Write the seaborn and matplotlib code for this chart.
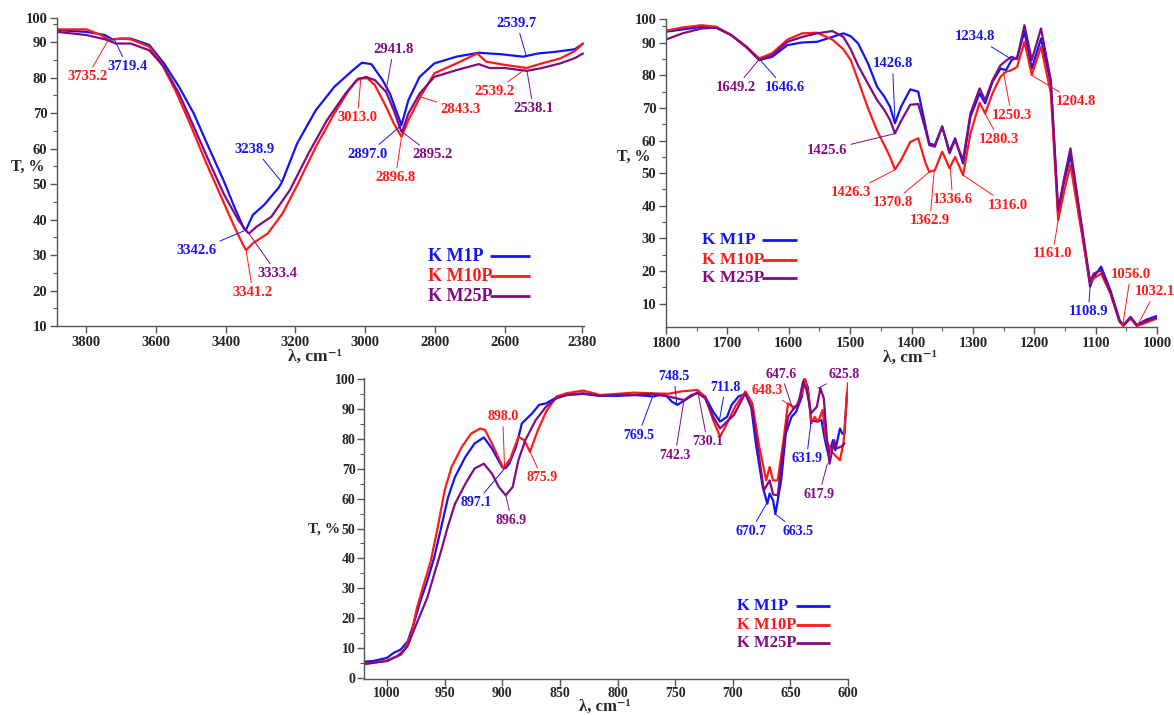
import numpy as np
import pandas as pd
import matplotlib
matplotlib.use("Agg")
import matplotlib.pyplot as plt
from matplotlib.ticker import MultipleLocator, FixedLocator
import seaborn as sns

SAMPLES = ["K M1P", "K M10P", "K M25P"]
PALETTE = {"K M1P": "#1414F0", "K M10P": "#FF1A1A", "K M25P": "#820A82"}

# ---------------- Panel A: 3880-2380 cm-1 ----------------
a_m1p_wn = [3882, 3798, 3745, 3724, 3692, 3671, 3618, 3576, 3533, 3491, 3449, 3406, 3375, 3348, 3342,
            3322, 3290, 3248, 3239, 3195, 3142, 3089, 3036, 3010, 2983, 2951, 2930, 2904, 2897, 2877,
            2845, 2803, 2740, 2676, 2613, 2549, 2507, 2454, 2401, 2378]
a_m1p_t = [93.4, 92.9, 92.0, 90.8, 91.0, 91.0, 89.2, 84.0, 77.4, 69.9, 60.5, 51.1, 43.6, 37.5, 37.0,
           41.3, 44.1, 49.0, 50.5, 61.5, 70.8, 77.4, 82.1, 84.2, 83.8, 79.3, 75.5, 68.5, 66.6, 73.7,
           80.2, 84.0, 85.9, 87.0, 86.6, 85.9, 86.8, 87.3, 88.0, 89.6]
a_m10p_wn = [3882, 3798, 3756, 3734, 3703, 3671, 3618, 3586, 3544, 3502, 3459, 3417, 3375, 3348, 3341,
             3322, 3279, 3237, 3195, 3142, 3089, 3047, 3020, 2994, 2973, 2941, 2919, 2897, 2877, 2843,
             2803, 2740, 2680, 2655, 2602, 2539, 2496, 2443, 2401, 2378]
a_m10p_t = [93.6, 93.6, 92.0, 90.6, 91.0, 90.8, 88.7, 84.5, 76.5, 67.1, 56.8, 47.4, 38.0, 32.5, 31.4,
            33.3, 36.1, 41.7, 49.7, 60.5, 69.9, 76.5, 79.8, 79.8, 77.9, 71.8, 67.1, 63.3, 68.0, 74.6,
            81.2, 84.0, 86.8, 84.5, 83.6, 82.7, 84.0, 85.4, 87.5, 89.6]
a_m25p_wn = [3882, 3798, 3745, 3713, 3671, 3618, 3576, 3533, 3491, 3449, 3406, 3364, 3338, 3333, 3311,
             3269, 3216, 3163, 3110, 3057, 3025, 2999, 2973, 2951, 2941, 2919, 2898, 2895, 2877, 2845,
             2803, 2740, 2676, 2645, 2602, 2538, 2496, 2443, 2401, 2378]
a_m25p_t = [92.9, 92.0, 90.8, 89.6, 89.6, 87.7, 83.0, 75.5, 66.2, 56.8, 47.4, 39.9, 36.5, 36.1, 38.0,
            40.8, 48.3, 58.6, 68.0, 75.5, 79.3, 80.2, 79.3, 77.0, 76.0, 70.8, 65.0, 64.7, 69.9, 75.5,
            80.2, 82.1, 83.8, 82.7, 82.7, 81.9, 82.7, 84.0, 85.5, 86.8]

# ---------------- Panel B: 1800-1000 cm-1 ----------------
b_wn = [1800, 1773, 1742, 1718, 1694, 1669, 1648, 1627, 1602, 1578, 1554, 1529, 1511, 1499, 1487,
        1471, 1456, 1444, 1435, 1427, 1417, 1402, 1389, 1377, 1371, 1362, 1350, 1338, 1329, 1316,
        1304, 1289, 1280, 1268, 1255, 1246, 1237, 1228, 1216, 1204, 1189, 1173, 1161, 1152, 1141,
        1128, 1109, 1103, 1091, 1076, 1061, 1055, 1043, 1033, 1018, 1000]
b_m1p_t = [93.4, 94.1, 94.9, 94.6, 92.4, 88.8, 84.7, 85.7, 89.3, 90.1, 90.3, 91.8, 92.9, 92.0, 89.8,
           83.7, 76.5, 73.4, 70.4, 65.3, 70.4, 75.7, 75.0, 64.2, 59.1, 58.6, 64.2, 56.6, 60.7, 53.0,
           67.3, 74.5, 71.4, 78.0, 82.1, 81.6, 84.7, 85.5, 93.4, 82.1, 91.3, 77.5, 37.6, 46.9, 55.5,
           39.7, 15.2, 18.2, 21.3, 14.1, 4.9, 3.4, 5.9, 3.4, 5.0, 6.2]
b_m10p_t = [93.7, 94.7, 95.4, 94.9, 92.4, 88.8, 85.2, 86.8, 91.0, 92.9, 93.1, 91.0, 88.0, 84.7, 78.5,
            70.0, 63.0, 58.5, 55.0, 51.1, 54.0, 59.6, 60.7, 53.0, 50.4, 50.9, 56.6, 51.5, 55.0, 49.4,
            62.2, 71.6, 68.3, 74.5, 79.6, 81.1, 81.6, 82.6, 90.3, 80.1, 88.8, 74.5, 35.6, 43.8, 52.5,
            37.6, 16.2, 17.7, 19.2, 13.1, 4.4, 3.1, 5.4, 3.1, 4.1, 5.4]
b_m25p_t = [91.0, 92.9, 94.4, 94.6, 92.4, 88.6, 84.7, 86.2, 90.3, 91.8, 92.9, 93.6, 91.8, 88.0, 83.0,
            77.5, 72.4, 69.3, 66.3, 62.2, 66.0, 71.0, 71.2, 63.2, 58.6, 58.1, 64.4, 56.1, 60.1, 54.0,
            68.3, 76.0, 72.4, 78.5, 83.1, 84.5, 85.7, 85.0, 95.4, 84.7, 94.4, 78.5, 38.6, 47.8, 57.6,
            40.7, 16.7, 19.2, 20.2, 13.6, 4.6, 3.4, 5.7, 3.4, 4.6, 5.7]

# ---------------- Panel C: 1020-600 cm-1 ----------------
c_m1p_wn = [1020, 1012, 1000, 994, 988, 982, 977, 971, 965, 959, 953, 947, 941, 932, 924, 916, 909,
            900, 897, 894, 888, 883, 874, 868, 862, 853, 844, 830, 815, 800, 786, 774, 769, 759, 753,
            748, 739, 731, 724, 717, 711, 705, 701, 695, 689, 684, 680, 674, 670, 668, 665, 663, 658,
            654, 649, 645, 640, 638, 635, 632, 627, 623, 620, 617, 613, 611, 607, 605, 603, 601]
c_m1p_t = [5.4, 5.6, 6.7, 8.4, 9.5, 12.3, 17.9, 25.8, 32.5, 40.4, 50.4, 60.5, 67.3, 74.0, 78.5, 80.5,
           76.8, 70.5, 70.3, 71.7, 77.4, 85.2, 88.6, 91.4, 91.9, 93.9, 94.7, 95.1, 94.4, 94.4, 94.7,
           94.4, 94.2, 95.1, 92.5, 91.4, 93.6, 95.5, 94.2, 89.1, 85.8, 87.4, 91.4, 94.2, 95.1, 90.8,
           78.5, 63.9, 58.3, 61.7, 59.4, 54.9, 66.1, 81.8, 87.4, 89.1, 94.2, 100.0, 97.5, 86.3, 85.8,
           86.3, 79.6, 74.6, 79.6, 76.2, 83.5, 81.8, 81.8, 95.3]
c_m10p_wn = [1020, 1012, 1000, 991, 985, 979, 974, 968, 962, 956, 950, 944, 935, 927, 919, 915, 909,
             899, 893, 886, 881, 876, 869, 862, 853, 844, 830, 815, 800, 786, 771, 756, 745, 731, 724,
             717, 711, 705, 698, 689, 683, 677, 671, 668, 665, 661, 656, 652, 648, 645, 640, 637, 634,
             632, 629, 626, 622, 619, 614, 610, 607, 604, 600]
c_m10p_t = [4.5, 5.0, 5.8, 7.3, 9.5, 14.6, 23.5, 31.4, 39.2, 50.4, 62.8, 70.6, 77.4, 81.8, 83.5, 83.0,
            78.5, 70.1, 73.4, 80.7, 79.6, 75.7, 83.0, 89.1, 94.2, 95.3, 96.2, 94.7, 95.1, 95.5, 95.3,
            95.1, 95.9, 96.4, 94.2, 86.3, 80.7, 85.2, 90.8, 95.9, 91.9, 77.4, 66.1, 70.6, 66.1, 66.1,
            79.6, 91.9, 90.8, 90.8, 95.3, 100.0, 94.2, 85.2, 87.4, 85.8, 89.7, 79.6, 75.7, 74.0, 72.9,
            78.5, 98.7]
c_m25p_wn = [1020, 1000, 988, 982, 977, 971, 965, 959, 953, 947, 941, 932, 924, 916, 909, 903, 897,
             891, 886, 880, 871, 862, 853, 844, 830, 815, 800, 786, 771, 756, 742, 736, 730, 724, 717,
             711, 705, 699, 689, 683, 678, 673, 668, 665, 661, 656, 652, 648, 643, 639, 636, 632, 627,
             624, 621, 618, 616, 612, 610, 605, 603]
c_m25p_t = [4.7, 5.6, 7.8, 10.7, 15.7, 21.3, 26.9, 34.8, 42.6, 51.0, 58.3, 65.0, 70.1, 71.7, 68.4,
            63.9, 61.1, 63.9, 72.9, 79.6, 86.3, 90.8, 93.6, 94.7, 95.3, 94.4, 94.7, 94.7, 95.1, 94.2,
            93.0, 94.7, 95.3, 93.6, 87.4, 83.5, 85.8, 88.0, 95.3, 89.7, 76.2, 62.8, 66.1, 61.4, 61.1,
            77.4, 87.4, 89.7, 91.9, 99.2, 96.4, 88.6, 90.8, 97.0, 93.6, 78.5, 71.7, 79.6, 76.8, 77.6,
            78.5]

# ---------------- Peak labels (value, sample, T at peak) ----------------
a_peaks = [("3735.2", "K M10P", 90.6), ("3719.4", "K M1P", 91.0), ("3342.6", "K M1P", 37.0),
           ("3341.2", "K M10P", 31.4), ("3333.4", "K M25P", 36.1), ("3238.9", "K M1P", 50.5),
           ("3013.0", "K M10P", 80.0), ("2941.8", "K M25P", 76.0), ("2897.0", "K M1P", 66.6),
           ("2896.8", "K M10P", 63.3), ("2895.2", "K M25P", 64.7), ("2843.3", "K M10P", 74.6),
           ("2539.7", "K M1P", 86.0), ("2539.2", "K M10P", 82.7), ("2538.1", "K M25P", 81.9)]
b_peaks = [("1649.2", "K M25P", 84.7), ("1646.6", "K M1P", 84.7), ("1426.8", "K M1P", 65.3),
           ("1425.6", "K M25P", 62.2), ("1426.3", "K M10P", 51.1), ("1370.8", "K M10P", 50.4),
           ("1362.9", "K M10P", 50.9), ("1336.6", "K M10P", 51.5), ("1316.0", "K M10P", 49.4),
           ("1280.3", "K M10P", 68.3), ("1250.3", "K M10P", 81.1), ("1234.8", "K M1P", 84.7),
           ("1204.8", "K M10P", 80.1), ("1161.0", "K M10P", 35.6), ("1108.9", "K M1P", 15.2),
           ("1056.0", "K M10P", 3.1), ("1032.1", "K M10P", 3.1)]
c_peaks = [("898.0", "K M10P", 70.1), ("897.1", "K M1P", 70.5), ("896.9", "K M25P", 61.1),
           ("875.9", "K M10P", 75.7), ("769.5", "K M1P", 94.2), ("748.5", "K M1P", 91.4),
           ("742.3", "K M25P", 93.0), ("730.1", "K M25P", 95.3), ("711.8", "K M1P", 85.8),
           ("648.3", "K M10P", 90.8), ("647.6", "K M25P", 89.7), ("625.8", "K M25P", 97.0),
           ("631.9", "K M1P", 86.3), ("617.9", "K M25P", 71.7), ("670.7", "K M1P", 58.3),
           ("663.5", "K M1P", 54.9)]

# label text positions (layout, data coordinates)
a_text_pos = [(3796, 80.2), (3681, 83.2), (3482, 31.2), (3322, 19.4), (3253, 24.8), (3316, 59.8),
              (3023, 68.7), (2920, 87.9), (2994, 58.4), (2914, 51.9), (2808, 58.2), (2729, 71.0),
              (2567, 95.3), (2631, 76.0), (2520, 71.3)]
b_text_pos = [(1686, 76.3), (1607, 76.3), (1431, 83.5), (1537, 57.1), (1499, 44.0), (1431, 40.9),
              (1370, 35.4), (1333, 41.9), (1243, 40.2), (1257, 60.3), (1237, 67.8), (1296, 91.8),
              (1132, 71.9), (1170, 25.2), (1112, 7.5), (1043, 19.0), (1003, 13.6)]
c_text_pos = [(899.6, 87.4), (923, 58.6), (892, 52.7), (865.6, 67.0), (782, 81.3), (751, 100.9),
              (750, 74.6), (722, 79.0), (706.5, 97.3), (670.4, 96.2), (658, 101.7), (603, 101.7),
              (636, 73.4), (625, 61.4), (684.5, 49.1), (643.4, 49.1)]


def long_df(parts):
    frames = []
    for name, wn, t in parts:
        frames.append(pd.DataFrame({"wn": wn, "T": t, "sample": name}))
    return pd.concat(frames, ignore_index=True)


df_a = long_df([("K M1P", a_m1p_wn, a_m1p_t), ("K M10P", a_m10p_wn, a_m10p_t),
                ("K M25P", a_m25p_wn, a_m25p_t)])
df_b = long_df([("K M1P", b_wn, b_m1p_t), ("K M10P", b_wn, b_m10p_t), ("K M25P", b_wn, b_m25p_t)])
df_c = long_df([("K M1P", c_m1p_wn, c_m1p_t), ("K M10P", c_m10p_wn, c_m10p_t),
                ("K M25P", c_m25p_wn, c_m25p_t)])

sns.set_style("ticks")
plt.rcParams["font.family"] = ["Liberation Serif", "DejaVu Serif"]
plt.rcParams["font.weight"] = "bold"

fig = plt.figure(figsize=(11.74, 7.15), dpi=100)
W, H = 1174, 715


def add_axes(l, r, t, b):
    return fig.add_axes([l / W, 1 - b / H, (r - l) / W, (b - t) / H])


axA = add_axes(57, 584, 18, 326)
axB = add_axes(666, 1157, 19, 327)
axC = add_axes(364, 848, 378, 679)

# legend layout: (text x, line x0, line x1, row y's) in axes fraction
specs = [
    dict(ax=axA, df=df_a, xl=(3882, 2375), yl=(10, 96.8), peaks=a_peaks, tpos=a_text_pos, fs=10.5,
         lfs=13, leg=(0.704, 0.822, 0.8975, [0.227, 0.162, 0.097]), ylab=(-0.055, 0.516),
         xlab=(0.49, -0.10), xlfs=12.5, pad=2, xmaj=200, xmin=None),
    dict(ax=axB, df=df_b, xl=(1800, 1000), yl=(2.8, 97.3), peaks=b_peaks, tpos=b_text_pos, fs=10.5,
         lfs=12.5, leg=(0.073, 0.196, 0.267, [0.282, 0.218, 0.159]), ylab=(-0.065, 0.552),
         xlab=(0.497, -0.10), xlfs=12.5, pad=2, xmaj=100, xmin=50),
    dict(ax=axC, df=df_c, xl=(1020, 600), yl=(-0.4, 100.4), peaks=c_peaks, tpos=c_text_pos, fs=10,
         lfs=12, leg=(0.771, 0.893, 0.963, [0.242, 0.179, 0.119]), ylab=(-0.082, 0.497),
         xlab=(0.498, -0.092), xlfs=12, pad=1, xmaj=50, xmin=None),
]

for i, sp in enumerate(specs):
    ax, fs = sp["ax"], sp["fs"]
    sns.lineplot(data=sp["df"], x="wn", y="T", hue="sample", hue_order=SAMPLES, palette=PALETTE,
                 sort=False, estimator=None, linewidth=1.6, ax=ax, legend=False)
    ax.set_xlim(*sp["xl"])
    ax.set_ylim(*sp["yl"])
    sns.despine(ax=ax)
    for s in ("left", "bottom"):
        ax.spines[s].set_color("#555555")
        ax.spines[s].set_linewidth(1.0)
    ax.xaxis.set_major_locator(MultipleLocator(sp["xmaj"]))
    if sp["xmin"]:
        ax.xaxis.set_minor_locator(MultipleLocator(sp["xmin"]))
    if i < 2:
        yt = list(range(10, 100, 10)) + [sp["yl"][1]]
        ax.yaxis.set_major_locator(FixedLocator(yt))
        ax.set_yticklabels([str(v) for v in range(10, 100, 10)] + ["100"])
        ax.yaxis.set_minor_locator(FixedLocator(list(range(15, 100, 10))))
        if i == 0:
            ax.set_xticks([3800, 3600, 3400, 3200, 3000, 2800, 2600, 2380])
    else:
        ax.yaxis.set_major_locator(MultipleLocator(10))
        ax.yaxis.set_minor_locator(MultipleLocator(5))
    ax.tick_params(axis="both", which="major", length=5, width=1, color="#555555",
                   labelsize=fs, pad=sp["pad"])
    ax.tick_params(axis="both", which="minor", length=3, width=0.8, color="#555555")
    for lab in ax.get_xticklabels() + ax.get_yticklabels():
        lab.set_fontweight("bold")
    ax.set_ylabel("T, %", rotation=0, fontsize=fs + 1, fontweight="bold", va="center",
                  ha="center")
    ax.yaxis.set_label_coords(*sp["ylab"])
    ax.set_xlabel("λ, cm⁻¹", fontsize=sp["xlfs"], fontweight="bold", va="center")
    ax.xaxis.set_label_coords(*sp["xlab"])

    for (lab, samp, ty), (tx, tyy) in zip(sp["peaks"], sp["tpos"]):
        c = PALETTE[samp]
        ax.annotate(lab, xy=(float(lab), ty), xytext=(tx, tyy), color=c, fontsize=fs,
                    fontweight="bold", ha="center", va="center", annotation_clip=False,
                    arrowprops=dict(arrowstyle="-", color=c, lw=0.7, shrinkA=0, shrinkB=0))

    # legend: name text followed by a line sample
    tx0, lx0, lx1, rows = sp["leg"]
    for name, ry in zip(SAMPLES, rows):
        c = PALETTE[name]
        ax.text(tx0, ry, name, transform=ax.transAxes, color=c, fontsize=sp["lfs"],
                fontweight="bold", ha="left", va="center")
        ax.plot([lx0, lx1], [ry, ry], transform=ax.transAxes, color=c, lw=2.0,
                solid_capstyle="butt")

fig.savefig("out.png", dpi=100)
